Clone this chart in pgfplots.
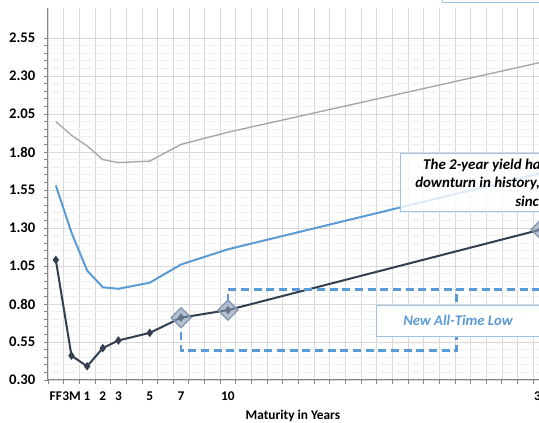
\documentclass[border=0pt]{standalone}
\usepackage{fontspec}
\setmainfont{Carlito}
\usepackage{pgfplots}
\pgfplotsset{compat=1.18}
\definecolor{navy}{HTML}{333F50}
\definecolor{xlblue}{HTML}{5B9BD5}
\definecolor{xlgray}{HTML}{A5A5A5}
\definecolor{boxblue}{HTML}{9DC3E6}
\definecolor{diam}{HTML}{8497B0}
\definecolor{gridc}{HTML}{D9D9D9}
\definecolor{minorc}{HTML}{F0F0F0}
\definecolor{axisc}{HTML}{868686}

\begin{document}
\begin{tikzpicture}
\begin{axis}[
    at={(0,0)}, anchor=south west,
    x=11.7375pt, y=114pt,
    xmin=-0.5, xmax=31.5, ymin=0.30, ymax=2.75,
    axis lines=left,
    axis line style={-, axisc, line width=0.75pt},
    clip=false,
    xtick={-0.5,0.5,...,31.5},
    xticklabels={},
    extra x ticks={0,1,2,3,4,6,8,11,31},
    extra x tick labels={FF,3M,1,2,3,5,7,10,30},
    extra x tick style={major tick length=0pt, grid=none},
    xmajorgrids,
    ytick={0.30,0.55,...,2.55},
    minor y tick num=4,
    ymajorgrids, yminorgrids,
    tick align=outside,
    major tick length=3pt, minor tick length=3pt,
    tick style={axisc, line width=0.6pt},
    major grid style={gridc, line width=0.5pt},
    minor grid style={minorc, line width=0.5pt},
    yticklabel style={/pgf/number format/fixed,
        /pgf/number format/fixed zerofill,
        /pgf/number format/precision=2,
        /pgf/number format/assume math mode=true,
        font=\bfseries\fontsize{11}{13}\selectfont, xshift=-3pt},
    xticklabel style={font=\bfseries\fontsize{10}{12}\selectfont, yshift=-5.5pt},
]

% 2 years ago (grey)
\addplot[xlgray, line width=1pt] coordinates {
(0,2.00) (1,1.91) (2,1.84) (3,1.75) (4,1.73) (6,1.74) (8,1.85) (11,1.93) (31,2.39)};

% 1 year ago (blue)
\addplot[xlblue, line width=1.5pt] coordinates {
(0,1.58) (1,1.27) (2,1.02) (3,0.91) (4,0.90) (6,0.94) (8,1.06) (11,1.16) (31,1.66)};

% current (dark)
\addplot[navy, line width=1.5pt, mark=diamond*, mark size=2pt] coordinates {
(0,1.09) (1,0.46) (2,0.39) (3,0.51) (4,0.56) (6,0.61) (8,0.71) (11,0.76) (31,1.29)};

% highlighted points
\addplot[only marks, mark=square*, mark size=5.3pt,
    mark options={rotate=45, draw=diam, fill=diam, fill opacity=0.6, line width=1pt}]
    coordinates {(8,0.71) (11,0.76) (31,1.29)};

% dashed brackets
\addplot[xlblue, line width=2.2pt, dash pattern=on 6pt off 3.5pt] coordinates {
(8,0.616) (8,0.497) (25.63,0.497) (25.63,0.897)};
\addplot[xlblue, line width=2.2pt, dash pattern=on 6pt off 3.5pt] coordinates {
(11,0.815) (11,0.897) (31.5,0.897)};

% annotation boxes
\draw[boxblue, line width=0.6pt, fill=white] (axis cs:20.46,0.585) rectangle (axis cs:30.9,0.793);
\node[text=xlblue, font=\bfseries\itshape\fontsize{11}{13}\selectfont]
    at (axis cs:25.7,0.689) {New All-Time Low};

\draw[boxblue, line width=0.6pt, fill=white, fill opacity=0.8] (axis cs:22.0,1.407) rectangle (axis cs:36,1.791);
\begin{scope}[font=\bfseries\itshape\fontsize{11.2}{13}\selectfont]
\node[anchor=west, inner sep=0pt] at (axis cs:23.46,1.714) {The 2-year yield has};
\node[anchor=west, inner sep=0pt] at (axis cs:22.95,1.594) {downturn in history,};
\node[anchor=west, inner sep=0pt] at (axis cs:29.34,1.478) {since};
\end{scope}

\draw[boxblue, line width=0.6pt, fill=white] (axis cs:24.68,2.787) rectangle (axis cs:36,3.2);

\node[font=\bfseries\fontsize{10}{12}\selectfont] at (axis cs:15.15,0.062) {Maturity in Years};
\end{axis}
\pgfresetboundingbox
\path[use as bounding box] (-36pt,-32.25pt) rectangle (368.25pt,285pt);
\end{tikzpicture}
\end{document}
